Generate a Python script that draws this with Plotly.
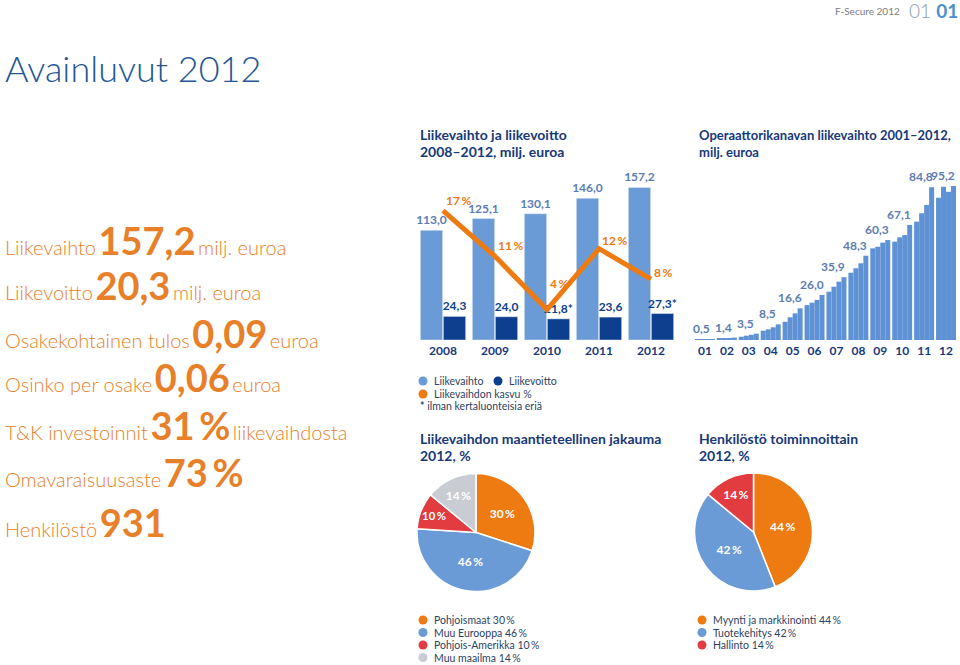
import plotly.graph_objects as go

W, H = 960, 665

# %% Liikevaihto ja liikevoitto 2008-2012, milj. euroa
vuodet = ['2008', '2009', '2010', '2011', '2012']
liikevaihto = [113.0, 125.1, 130.1, 146.0, 157.2]
liikevoitto = [24.3, 24.0, 21.8, 23.6, 27.3]
voitto_merkki = ['', '', '*', '', '*']
kasvu = [17, 11, 4, 12, 8]

# %% Operaattorikanavan liikevaihto 2001-2012 (neljännekset, luettu kuvasta)
op_vuodet = ['01', '02', '03', '04', '05', '06', '07', '08', '09', '10', '11', '12']
op_neljannekset = [
    [0.2, 0.3, 0.4, 0.5],
    [0.8, 0.9, 1.2, 1.4],
    [1.9, 2.5, 3.0, 3.7],
    [5.4, 6.2, 7.4, 9.1],
    [10.6, 13.2, 15.5, 18.4],
    [20.3, 21.7, 23.3, 26.2],
    [28.1, 31.0, 33.9, 36.5],
    [39.1, 41.7, 44.6, 49.0],
    [53.3, 54.2, 56.6, 58.1],
    [57.2, 59.7, 61.0, 66.9],
    [68.8, 73.7, 78.5, 88.8],
    [82.7, 89.1, 86.2, 89.5],
]
op_vuosi_arvo = [0.5, 1.4, 3.5, 8.5, 16.6, 26.0, 35.9, 48.3, 60.3, 67.1, 84.8, 95.2]

# %% Jakaumat 2012, %
geo_nimet = ['Pohjoismaat', 'Muu Eurooppa', 'Pohjois-Amerikka', 'Muu maailma']
geo_osuus = [30, 46, 10, 14]
hk_nimet = ['Myynti ja markkinointi', 'Tuotekehitys', 'Hallinto']
hk_osuus = [44, 42, 14]

# %% Avainluvut
kpi_nimet = ['Liikevaihto', 'Liikevoitto', 'Osakekohtainen tulos', 'Osinko per osake',
             'T&K investoinnit', 'Omavaraisuusaste', 'Henkilöstö']
kpi_arvot = ['157,2', '20,3', '0,09', '0,06', '31\u2009%', '73\u2009%', '931']
kpi_yksikot = ['milj. euroa', 'milj. euroa', 'euroa', 'euroa', 'liikevaihdosta', '', '']

# %% tyylit
FONT = 'Lato'
ORANSSI = '#ee7a12'
ORANSSI_TEKSTI = '#e8802a'
VAALEA = '#6b9bd7'
TUMMA = '#0e3f8e'
NAVY = '#17397a'
ARVO = '#5b7db3'
PUNAINEN = '#e23b40'
HARMAA = '#c9ccd2'
TEKSTI = '#2d3f63'


def px(x):
    return x / W


def py(y):
    return 1 - y / H


def fi(v):
    return f'{v:.1f}'.replace('.', ',')


fig = go.Figure()

fig.add_trace(go.Bar(x=vuodet, y=liikevaihto, marker_color=VAALEA,
                     text=[fi(v) for v in liikevaihto], textposition='outside',
                     textfont=dict(family=FONT, size=12, color=ARVO, weight='bold'),
                     constraintext='none', cliponaxis=False, showlegend=False,
                     xaxis='x', yaxis='y'))
fig.add_trace(go.Bar(x=vuodet, y=liikevoitto, marker_color=TUMMA,
                     text=[fi(v) + m for v, m in zip(liikevoitto, voitto_merkki)],
                     textposition='outside',
                     textfont=dict(family=FONT, size=12, color=TUMMA, weight='bold'),
                     constraintext='none', cliponaxis=False, showlegend=False,
                     xaxis='x', yaxis='y'))
fig.add_trace(go.Scatter(x=vuodet, y=kasvu, mode='lines',
                         line=dict(color=ORANSSI, width=5), showlegend=False,
                         cliponaxis=False, xaxis='x', yaxis='y2'))

kasvu_yshift = [10, 11, 26, 8, 7]
for i, (k, s) in enumerate(zip(kasvu, kasvu_yshift)):
    fig.add_annotation(x=i, y=k, xref='x', yref='y2', text=f'{k}\u2009%',
                       showarrow=False, xanchor='left', yanchor='middle',
                       xshift=1, yshift=s,
                       font=dict(family=FONT, size=12, color=ORANSSI, weight='bold'))

# operaattorikanava: neljä palkkia per vuosi
siirrot = [-0.342, -0.114, 0.114, 0.342]
op_x = [i + s for i in range(len(op_vuodet)) for s in siirrot]
op_y = [q for vuosi in op_neljannekset for q in vuosi]
fig.add_trace(go.Bar(x=op_x, y=op_y, width=0.228, marker_color='#5f92d4',
                     marker_line_width=0, showlegend=False, xaxis='x3', yaxis='y3'))
for i, (a, q) in enumerate(zip(op_vuosi_arvo, op_neljannekset)):
    fig.add_annotation(x=i, y=max(q), xref='x3', yref='y3', text=fi(a),
                       showarrow=False, xanchor='center', yanchor='bottom',
                       xshift=-3, yshift=1,
                       font=dict(family=FONT, size=12, color=ARVO, weight='bold'))

# piirakat
geo_varit = [ORANSSI, VAALEA, PUNAINEN, HARMAA]
fig.add_trace(go.Pie(values=geo_osuus, labels=geo_nimet,
                     text=[f'{v}\u2009%' for v in geo_osuus], textinfo='text',
                     textposition='inside', insidetextorientation='horizontal',
                     sort=False, direction='clockwise', hoverinfo='label+percent',
                     marker=dict(colors=geo_varit, line=dict(color='white', width=1.5)),
                     textfont=dict(family=FONT, size=12, color='white', weight='bold'),
                     domain=dict(x=[px(417), px(535)], y=[py(592), py(473)]),
                     showlegend=False))
hk_varit = [ORANSSI, VAALEA, PUNAINEN]
fig.add_trace(go.Pie(values=hk_osuus, labels=hk_nimet,
                     text=[f'{v}\u2009%' for v in hk_osuus], textinfo='text',
                     textposition='inside', insidetextorientation='horizontal',
                     sort=False, direction='clockwise', hoverinfo='label+percent',
                     marker=dict(colors=hk_varit, line=dict(color='white', width=1.5)),
                     textfont=dict(family=FONT, size=12, color='white', weight='bold'),
                     domain=dict(x=[px(694), px(813)], y=[py(591), py(473)]),
                     showlegend=False))

# tekstit
otsikot = [
    (418, 135, 14, 'Liikevaihto ja liikevoitto'),
    (418, 152, 14, '2008\u20132012, milj. euroa'),
    (697, 135, 13, 'Operaattorikanavan liikevaihto 2001\u20132012,'),
    (697, 152, 13, 'milj. euroa'),
    (418, 438, 14, 'Liikevaihdon maantieteellinen jakauma'),
    (418, 455, 14, '2012, %'),
    (697, 438, 14, 'Henkilöstö toiminnoittain'),
    (697, 455, 14, '2012, %'),
]
for x, y, s, t in otsikot:
    fig.add_annotation(x=px(x), y=py(y), xref='paper', yref='paper', text=t,
                       showarrow=False, xanchor='left', yanchor='middle',
                       font=dict(family=FONT, size=s, color=NAVY, weight='bold'))

fig.add_annotation(x=px(3), y=py(68), xref='paper', yref='paper', text='Avainluvut 2012',
                   showarrow=False, xanchor='left', yanchor='middle',
                   font=dict(family=FONT, size=36, color='#245694', weight=300))
fig.add_annotation(x=px(902), y=py(11), xref='paper', yref='paper', text='F-Secure 2012',
                   showarrow=False, xanchor='right', yanchor='middle',
                   font=dict(family=FONT, size=10, color='#7d7d7d'))
fig.add_annotation(x=px(907), y=py(10), xref='paper', yref='paper',
                   text='01 <span style="color:#4a8fd0"><b>01</b></span>',
                   showarrow=False, xanchor='left', yanchor='middle',
                   font=dict(family=FONT, size=19, color='#8d9db6', weight=300))

kpi_y = [240, 285, 333, 377, 425, 472, 522]
for n, a, u, y in zip(kpi_nimet, kpi_arvot, kpi_yksikot, kpi_y):
    t = f'{n}\u2009<span style="font-size:38px"><b>{a}</b></span>\u2009{u}'
    fig.add_annotation(x=px(3), y=py(y), xref='paper', yref='paper', text=t,
                       showarrow=False, xanchor='left', yanchor='middle',
                       font=dict(family=FONT, size=20, color=ORANSSI_TEKSTI, weight=300))

# selitteet: (pallon x, rivin y, väri tai None, teksti)
selitteet = [
    (423, 381, VAALEA, 'Liikevaihto'),
    (498, 381, TUMMA, 'Liikevoitto'),
    (423, 394, ORANSSI, 'Liikevaihdon kasvu %'),
    (419, 406, None, '<b>*</b> ilman kertaluonteisia eriä'),
]
for i, (n, v) in enumerate(zip(geo_nimet, geo_osuus)):
    selitteet.append((423, 620 + i * 12.5, geo_varit[i], f'{n} {v}\u2009%'))
for i, (n, v) in enumerate(zip(hk_nimet, hk_osuus)):
    selitteet.append((702, 620 + i * 12.5, hk_varit[i], f'{n} {v}\u2009%'))
for x, y, vari, t in selitteet:
    if vari is not None:
        fig.add_shape(type='circle', xref='paper', yref='paper',
                      xsizemode='pixel', ysizemode='pixel',
                      xanchor=px(x), yanchor=py(y), x0=-4.5, x1=4.5, y0=-4.5, y1=4.5,
                      fillcolor=vari, line_width=0)
        tx = x + 9
    else:
        tx = x - 1
    fig.add_annotation(x=px(tx), y=py(y), xref='paper', yref='paper', text=t,
                       showarrow=False, xanchor='left', yanchor='middle',
                       font=dict(family=FONT, size=10.5, color=TEKSTI))

fig.update_layout(
    width=W, height=H, margin=dict(l=0, r=0, t=0, b=0, autoexpand=False),
    paper_bgcolor='white', plot_bgcolor='white',
    barmode='group', bargap=0.115, bargroupgap=0.03,
    xaxis=dict(domain=[px(417), px(677)], type='category', range=[-0.5, 4.5],
               showgrid=False, zeroline=False, showline=False, ticks='',
               ticklabelstandoff=2,
               tickfont=dict(family=FONT, size=12, color=NAVY, weight='bold'),
               anchor='y'),
    yaxis=dict(domain=[py(340), py(175)], range=[0, 170], visible=False, anchor='x'),
    yaxis2=dict(overlaying='y', range=[0, 170 / 7.84], visible=False, anchor='x'),
    xaxis3=dict(domain=[px(694), px(957)], range=[-0.5, 11.5],
                tickvals=list(range(len(op_vuodet))), ticktext=op_vuodet,
                showgrid=False, zeroline=False, showline=False, ticks='',
                ticklabelstandoff=2,
                tickfont=dict(family=FONT, size=12, color=NAVY, weight='bold'),
                anchor='y3'),
    yaxis3=dict(domain=[py(340), py(168)], range=[0, 100], visible=False, anchor='x3'),
)

# sivun oletusreunus pois, jotta kuva täyttää ikkunan
fig.write_html('out.html', config={'displayModeBar': False},
               post_script="document.body.style.margin = '0';")
